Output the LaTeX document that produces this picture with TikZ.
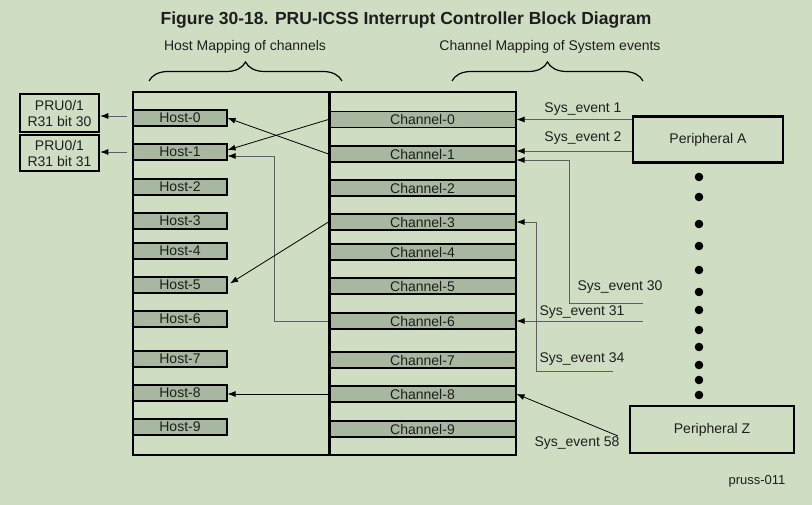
\documentclass[tikz,border=0pt]{standalone}
\usepackage{fontspec}
\setmainfont{Liberation Sans}
\usetikzlibrary{arrows.meta,positioning,decorations.pathreplacing}

\definecolor{bgcol}{RGB}{207,222,195}
\definecolor{barfill}{RGB}{168,184,160}
\definecolor{linegray}{RGB}{95,95,95}
\definecolor{txtcol}{RGB}{30,30,30}

\tikzset{
  hostbar/.style={draw,line width=1.1pt,fill=barfill,minimum width=94pt,minimum height=16pt,inner sep=0pt,text=txtcol,font=\fontsize{14}{16}\selectfont},
  chanbar/.style={hostbar,minimum width=187pt},
  thickbox/.style={draw,line width=2.6pt,align=center,inner sep=0pt,text=txtcol,font=\fontsize{14}{16}\selectfont},
  conn/.style={-{Latex[length=8pt,width=6pt,color=black]},line width=0.8pt},
  gconn/.style={conn,draw=linegray},
  lbl/.style={inner sep=0pt,text=txtcol,font=\fontsize{14}{16}\selectfont},
  curly/.style={decorate,decoration={brace,amplitude=19pt},line width=1.2pt}
}

\begin{document}
\begin{tikzpicture}[x=1pt,y=-1pt]
\fill[bgcol] (0,0) rectangle (812,505);
\useasboundingbox (0,0) rectangle (812,505);

% titles
\node[lbl,font=\fontsize{17.5}{20}\selectfont\bfseries] (title) at (406,20) {Figure 30-18. PRU-ICSS Interrupt Controller Block Diagram};
\node[lbl] (hosttitle) at (245,47) {Host Mapping of channels};
\node[lbl] (chantitle) at (550,47) {Channel Mapping of System events};
\draw[curly] (149,81) -- (342,81);
\draw[curly] (452,81) -- (643,81);

% host bars
\node[hostbar] (h0) at (180,118) {Host-0};
\node[hostbar] (h1) at (180,152) {Host-1};
\node[hostbar] (h2) at (180,187) {Host-2};
\node[hostbar] (h3) at (180,221) {Host-3};
\node[hostbar] (h4) at (180,251) {Host-4};
\node[hostbar] (h5) at (180,285) {Host-5};
\node[hostbar] (h6) at (180,319) {Host-6};
\node[hostbar] (h7) at (180,359) {Host-7};
\node[hostbar] (h8) at (180,393) {Host-8};
\node[hostbar] (h9) at (180,427) {Host-9};

% channel bars
\node[chanbar] (c0) at (422.5,119.5) {Channel-0};
\node[chanbar] (c1) at (422.5,154) {Channel-1};
\node[chanbar] (c2) at (422.5,188) {Channel-2};
\node[chanbar] (c3) at (422.5,222) {Channel-3};
\node[chanbar] (c4) at (422.5,252) {Channel-4};
\node[chanbar] (c5) at (422.5,286) {Channel-5};
\node[chanbar] (c6) at (422.5,321) {Channel-6};
\node[chanbar] (c7) at (422.5,360) {Channel-7};
\node[chanbar] (c8) at (422.5,394) {Channel-8};
\node[chanbar] (c9) at (422.5,429) {Channel-9};

% blocks
\draw[line width=2.8pt] (133,92) rectangle (330,455);
\draw[line width=2.8pt] (329,92) rectangle (516,455);

% PRU outputs
\node[thickbox,minimum width=79pt,minimum height=38pt] (pru0) at (59.5,113) {PRU0/1\\R31 bit 30};
\node[thickbox,minimum width=79pt,minimum height=36pt] (pru1) at (59.5,153) {PRU0/1\\R31 bit 31};
\coordinate (h0out) at ([yshift=2pt]h0.west);
\draw[gconn,shorten <=5pt] (h0out) -- (pru0.east |- h0out);
\draw[gconn,shorten <=5pt] (h1.west) -- (pru1.east |- h1.west);

% channel to host
\draw[conn] (c1.west) -- (h0.east);
\draw[conn] (c0.west) -- ([yshift=2pt]h1.east);
\draw[gconn] (c6.west) -- ++(-54,0) |- ([yshift=-4pt]h1.east);
\draw[conn,shorten >=3pt] (c3.west) -- (h5.east);
\draw[conn] (c8.west) -- (c8.west -| h8.east);

% peripherals
\node[thickbox,minimum width=150pt,minimum height=46pt] (pa) at (708,139.5) {Peripheral A};
\node[thickbox,minimum width=164pt,minimum height=47pt] (pz) at (712,429.5) {Peripheral Z};
\foreach \y in {177,197,224,246,270,292,310,330,347,365,380,395}
  \fill (699,\y) circle (4.3pt);

% system events
\coordinate (c1a) at ([yshift=3pt]c1.east);
\coordinate (c1b) at ([yshift=-6pt]c1.east);
\coordinate (e30) at (643,303);
\coordinate (e31) at (643,321);
\coordinate (e34) at (613,371);
\coordinate (e58) at (618,436);
\draw[gconn] (pa.west |- c0.east) -- (c0.east);
\draw[gconn] (pa.west |- c1a) -- (c1a);
\draw[gconn] (e30) -- ++(-74,0) |- (c1b);
\draw[gconn] (e34) -- ++(-77,0) |- (c3.east);
\draw[gconn] (e31) -- (c6.east);
\draw[conn] (e58) -- (c8.east);
\node[lbl] (s1) at (583,109) {Sys\_event 1};
\node[lbl] (s2) at (583,138) {Sys\_event 2};
\node[lbl] (s30) at (620,287) {Sys\_event 30};
\node[lbl] (s31) at (582,312) {Sys\_event 31};
\node[lbl] (s34) at (582,359) {Sys\_event 34};
\node[lbl] (s58) at (577,443) {Sys\_event 58};

\node[lbl,font=\fontsize{13}{15}\selectfont] (fig) at (757,481) {pruss-011};
\end{tikzpicture}
\end{document}
